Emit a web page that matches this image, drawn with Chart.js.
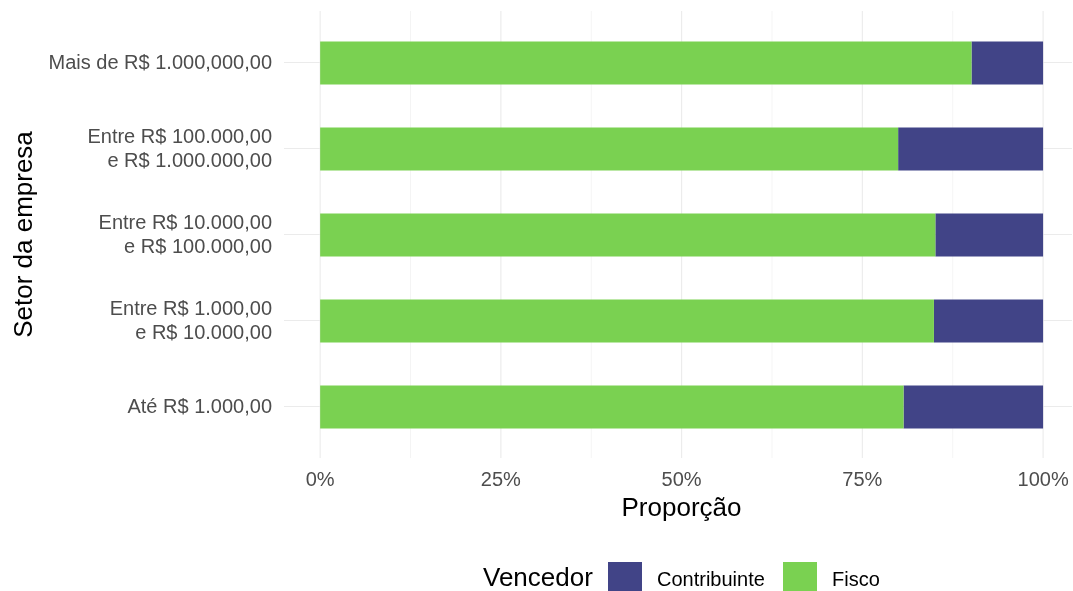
<!DOCTYPE html>
<html>
<head>
<meta charset="utf-8">
<script src="https://cdn.jsdelivr.net/npm/chart.js@4/dist/chart.umd.min.js"></script>
<style>
  body { margin: 0; background: #fff; }
  #wrap { width: 1073px; height: 591px; }
</style>
</head>
<body>
<div id="wrap"><canvas id="grafico" width="1073" height="591"></canvas></div>
<script>
// Faixas de valor (de cima para baixo)
const categorias = [
    'Mais de R$ 1.000,000,00',
    ['Entre R$ 100.000,00', 'e R$ 1.000.000,00'],
    ['Entre R$ 10.000,00', 'e R$ 100.000,00'],
    ['Entre R$ 1.000,00', 'e R$ 10.000,00'],
    'Até R$ 1.000,00'
];

// Proporção de vitórias por vencedor
const fisco = [0.901, 0.7995, 0.851, 0.849, 0.807];
const contribuinte = [0.099, 0.2005, 0.149, 0.151, 0.193];

const ticksX = [0, 0.25, 0.5, 0.75, 1];
const gradeX = [0, 0.125, 0.25, 0.375, 0.5, 0.625, 0.75, 0.875, 1];

const corFisco = '#7AD151';
const corContribuinte = '#414487';
const FONTE = '"Liberation Sans", Arial, sans-serif';

// Plugin para grade vertical, títulos e legenda
const extras = {
    id: 'extras',
    beforeDatasetsDraw(chart) {
        const ctx = chart.ctx;
        const x = chart.scales.x;
        const area = chart.chartArea;
        ctx.save();
        ctx.strokeStyle = '#EBEBEB';
        gradeX.forEach(v => {
            const px = x.getPixelForValue(v);
            ctx.lineWidth = ticksX.includes(v) ? 1.1 : 0.55;
            ctx.beginPath();
            ctx.moveTo(px, area.top - 9);
            ctx.lineTo(px, area.bottom + 8);
            ctx.stroke();
        });
        ctx.restore();
    },
    afterDraw(chart) {
        const ctx = chart.ctx;
        const area = chart.chartArea;
        ctx.save();
        ctx.fillStyle = '#000';
        ctx.textBaseline = 'middle';

        // Título eixo x
        ctx.font = '26px ' + FONTE;
        ctx.textAlign = 'center';
        ctx.fillText('Proporção', (area.left + 1079) / 2, 509);

        // Título eixo y
        ctx.save();
        ctx.translate(25, (area.top - 9 + area.bottom + 8) / 2);
        ctx.rotate(-Math.PI / 2);
        ctx.fillText('Setor da empresa', 0, 0);
        ctx.restore();

        // Legenda
        ctx.textAlign = 'left';
        ctx.fillText('Vencedor', 483, 579);
        const itens = [
            { label: 'Contribuinte', cor: corContribuinte, x: 608 },
            { label: 'Fisco', cor: corFisco, x: 783 }
        ];
        ctx.font = '20px ' + FONTE;
        itens.forEach(item => {
            ctx.fillStyle = item.cor;
            ctx.fillRect(item.x, 562, 34, 34);
            ctx.fillStyle = '#000';
            ctx.fillText(item.label, item.x + 49, 580);
        });
        ctx.restore();
    }
};

const ctx = document.getElementById('grafico');
new Chart(ctx, {
    type: 'bar',
    data: {
        labels: categorias,
        datasets: [
            {
                label: 'Fisco',
                data: fisco,
                backgroundColor: corFisco,
                borderWidth: 0,
                barPercentage: 0.5,
                categoryPercentage: 1
            },
            {
                label: 'Contribuinte',
                data: contribuinte,
                backgroundColor: corContribuinte,
                borderWidth: 0,
                barPercentage: 0.5,
                categoryPercentage: 1
            }
        ]
    },
    options: {
        indexAxis: 'y',
        responsive: false,
        animation: false,
        layout: { padding: { top: 20, right: 1, left: 0, bottom: 0 } },
        plugins: {
            legend: { display: false },
            tooltip: { enabled: false }
        },
        scales: {
            x: {
                stacked: true,
                min: -0.05,
                max: 1.04,
                border: { display: false },
                grid: { display: false },
                afterBuildTicks: function(scale) {
                    scale.ticks = ticksX.map(v => ({ value: v }));
                },
                afterFit: function(scale) {
                    scale.height = 141;
                    scale.paddingLeft = 0;
                    scale.paddingRight = 0;
                },
                ticks: {
                    padding: 10,
                    color: '#4D4D4D',
                    font: { size: 20, family: FONTE },
                    maxRotation: 0,
                    callback: function(value) {
                        return Math.round(value * 100) + '%';
                    }
                }
            },
            y: {
                stacked: true,
                border: { display: false },
                grid: {
                    offset: false,
                    color: '#EBEBEB',
                    lineWidth: 1.1,
                    drawTicks: false
                },
                afterFit: function(scale) {
                    scale.width = 284;
                    scale.paddingTop = 0;
                    scale.paddingBottom = 0;
                },
                ticks: {
                    padding: 12,
                    color: '#4D4D4D',
                    font: { size: 20, family: FONTE, lineHeight: 1.2 }
                }
            }
        }
    },
    plugins: [extras]
});
</script>
</body>
</html>
